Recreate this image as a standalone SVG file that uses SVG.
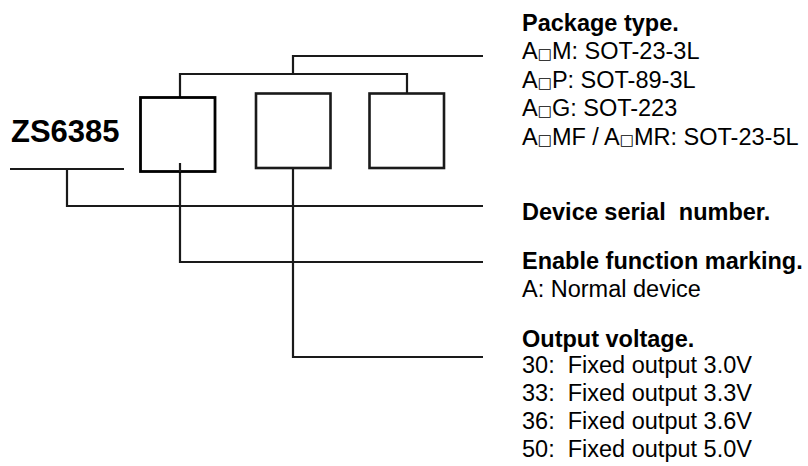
<svg xmlns="http://www.w3.org/2000/svg" width="808" height="466" viewBox="0 0 808 466">
<style>
.ln{fill:none;stroke:#1a1a1a;stroke-width:2.2;stroke-linecap:butt;stroke-linejoin:miter}
.box{fill:#fff;stroke:#1a1a1a;stroke-width:2.6}
.box1{fill:#fff;stroke:#000;stroke-width:2.8}
.t{font-family:"Liberation Sans",Arial,sans-serif;font-size:23.5px;fill:#000;white-space:pre}
.b{font-weight:bold}
.sq{font-family:"DejaVu Sans",sans-serif;font-size:15px}
.title{font-family:"Liberation Sans",Arial,sans-serif;font-size:31px;font-weight:bold;fill:#000}
</style>
<rect width="808" height="466" fill="#fff"/>
<g id="connectors">
  <polyline class="ln" points="483,56 293,56 293,74"/>
  <polyline class="ln" points="180,97 180,74 407,74 407,93"/>
  <line class="ln" x1="10" y1="169" x2="124" y2="169"/>
  <polyline class="ln" points="67,169 67,206 483,206"/>
  <polyline class="ln" points="180,168 180,262 483,262"/>
  <polyline class="ln" points="293,168 293,357 483,357"/>
</g>
<g id="part-name">
  <text class="title" x="11" y="142">ZS6385</text>
</g>
<g id="box-enable">
  <rect class="box1" x="140.5" y="97.5" width="74.5" height="74"/>
  <line class="ln" x1="180" y1="163" x2="180" y2="172"/>
</g>
<g id="box-voltage">
  <rect class="box" x="256" y="93.5" width="74.5" height="74.5"/>
</g>
<g id="box-package">
  <rect class="box" x="369.5" y="93.5" width="74.5" height="74.5"/>
</g>
<g id="label-package">
  <text class="t b" x="522" y="31">Package type.</text>
  <text class="t" x="522" y="59">A<tspan class="sq">□</tspan>M: SOT-23-3L</text>
  <text class="t" x="522" y="88">A<tspan class="sq">□</tspan>P: SOT-89-3L</text>
  <text class="t" x="522" y="116">A<tspan class="sq">□</tspan>G: SOT-223</text>
  <text class="t" x="522" y="145">A<tspan class="sq">□</tspan>MF / A<tspan class="sq">□</tspan>MR: SOT-23-5L</text>
</g>
<g id="label-serial">
  <text class="t b" x="522" y="220">Device serial  number.</text>
</g>
<g id="label-enable">
  <text class="t b" x="522" y="269">Enable function marking.</text>
  <text class="t" x="522" y="297">A: Normal device</text>
</g>
<g id="label-voltage">
  <text class="t b" x="522" y="347">Output voltage.</text>
  <text class="t" x="522" y="373">30:  Fixed output 3.0V</text>
  <text class="t" x="522" y="401">33:  Fixed output 3.3V</text>
  <text class="t" x="522" y="429">36:  Fixed output 3.6V</text>
  <text class="t" x="522" y="457">50:  Fixed output 5.0V</text>
</g>
</svg>
